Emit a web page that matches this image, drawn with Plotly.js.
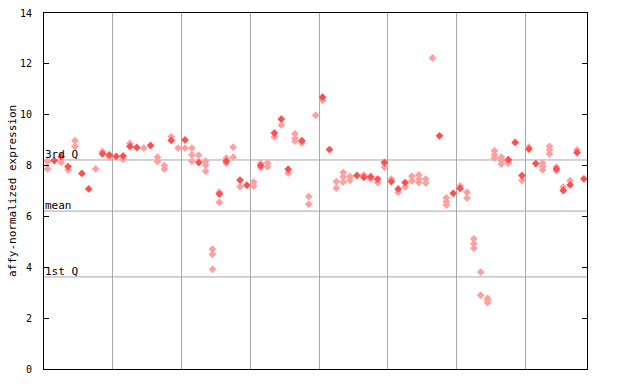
<!DOCTYPE html>
<html>
<head>
<meta charset="utf-8">
<script src="https://cdn.plot.ly/plotly-3.0.1.min.js"></script>
<style>html,body{margin:0;padding:0;background:#fff;}#chart{width:640px;height:384px;}</style>
</head>
<body>
<div id="chart"></div>
<script>
// Sample column index (0..78) and expression value of solid (filled) markers
const solidCol = [1,2,3,5,6,8,9,10,11,12,13,15,18,20,22,25,26,28,29,31,33,34,35,37,40,41,45,46,47,48,49,50,51,52,57,59,60,67,68,69,70,71,74,75,76,77,78];
const solidVal = [8.20,8.35,7.96,7.69,7.08,8.46,8.42,8.36,8.38,8.75,8.71,8.79,8.99,9.01,8.12,6.88,8.17,7.43,7.23,8.00,9.28,9.83,7.86,8.98,10.69,8.63,7.61,7.54,7.56,7.47,8.12,7.37,7.08,7.33,9.17,6.91,7.10,8.23,8.91,7.61,8.65,8.08,7.87,7.02,7.24,8.51,7.48];

// Sample column index and value of hatched (checkered) markers
const hatchCol = [0,0,2,3,4,4,7,8,9,11,12,14,16,16,17,17,18,19,20,21,21,21,22,23,23,23,24,24,24,25,25,26,26,27,27,28,30,30,31,31,32,32,33,34,35,36,36,36,37,38,38,39,40,42,42,43,43,43,44,44,46,47,48,49,50,51,52,53,53,54,54,54,55,55,56,58,58,58,60,61,61,62,62,62,63,63,64,64,64,65,65,65,66,66,66,67,69,70,72,72,72,73,73,73,74,74,75,76,77];
const hatchVal = [8.16,7.87,8.13,7.83,8.98,8.75,7.87,8.55,8.33,8.24,8.87,8.69,8.33,8.16,8.00,7.86,9.13,8.69,8.69,8.69,8.42,8.17,8.41,8.17,8.02,7.78,4.71,4.51,3.92,6.95,6.56,8.29,8.10,8.72,8.33,7.17,7.35,7.19,8.08,7.92,8.10,7.95,9.12,9.59,7.70,9.25,9.06,8.96,8.88,6.78,6.48,9.98,10.56,7.37,7.11,7.73,7.56,7.35,7.57,7.42,7.63,7.48,7.33,7.93,7.47,6.95,7.16,7.58,7.40,7.63,7.47,7.33,7.47,7.31,12.23,6.73,6.58,6.45,7.20,6.95,6.72,5.12,4.93,4.75,3.81,2.90,2.78,2.70,2.61,8.58,8.42,8.29,8.33,8.20,8.06,8.10,7.41,8.72,8.10,7.96,7.83,8.75,8.62,8.46,7.94,7.80,7.15,7.41,8.62];

// Summary statistics lines
const statNames = ['3rd Q', 'mean', '1st Q'];
const statVals = [8.22, 6.21, 3.62];

// Group separators (between sample columns)
const groupBreaks = [9.5, 19.5, 29.5, 39.5, 49.5, 59.5, 69.5];

const yTicks = [0, 2, 4, 6, 8, 10, 12, 14];
const yTitle = 'affy-normalized expression';

const mono = 'DejaVu Sans Mono';

const traces = [
  {
    x: hatchCol, y: hatchVal, type: 'scatter', mode: 'markers',
    marker: {symbol: 'diamond', size: 6, color: '#ffa0a0', line: {width: 0}},
    hoverinfo: 'y', showlegend: false
  },
  {
    x: solidCol, y: solidVal, type: 'scatter', mode: 'markers',
    marker: {symbol: 'diamond', size: 6, color: '#ff4f4f', line: {width: 0}},
    hoverinfo: 'y', showlegend: false
  }
];

const shapes = statVals.map(v => ({
  type: 'line', xref: 'paper', x0: 0, x1: 1, yref: 'y', y0: v, y1: v,
  line: {color: '#a8a8a8', width: 1}, layer: 'below'
}));

const annotations = statVals.map((v, i) => ({
  xref: 'paper', x: 0, xanchor: 'left', yref: 'y', y: v, yanchor: 'bottom',
  text: statNames[i], showarrow: false, yshift: -3, xshift: -1,
  font: {family: mono, size: 11, color: '#000'}
}));
annotations.push({
  xref: 'paper', x: 0, xshift: -32, xanchor: 'center', yref: 'paper', y: 0.5, yanchor: 'middle',
  text: yTitle, textangle: -90, showarrow: false,
  font: {family: mono, size: 11, color: '#000'}
});

const layout = {
  width: 640, height: 384,
  margin: {l: 44, r: 53, t: 13, b: 15, pad: 0},
  paper_bgcolor: '#fff', plot_bgcolor: '#fff',
  font: {family: mono, size: 10, color: '#000'},
  showlegend: false,
  xaxis: {
    range: [-0.5, 78.45], tickvals: groupBreaks, showticklabels: false, ticks: '',
    showgrid: true, gridcolor: '#a8a8a8', gridwidth: 1, zeroline: false,
    showline: true, linecolor: '#000', linewidth: 1, mirror: true, fixedrange: true
  },
  yaxis: {
    range: [0, 14], tickvals: yTicks, ticktext: yTicks.map(String),
    ticks: 'inside', ticklen: 5, tickcolor: '#000', tickwidth: 1,
    ticklabelstandoff: 9,
    showgrid: false, zeroline: false,
    showline: true, linecolor: '#000', linewidth: 1, mirror: 'ticks',
    tickfont: {family: mono, size: 10, color: '#000'},
    automargin: false, fixedrange: true
  },
  shapes: shapes,
  annotations: annotations
};

Plotly.newPlot('chart', traces, layout, {displayModeBar: false, staticPlot: true});
</script>
</body>
</html>
